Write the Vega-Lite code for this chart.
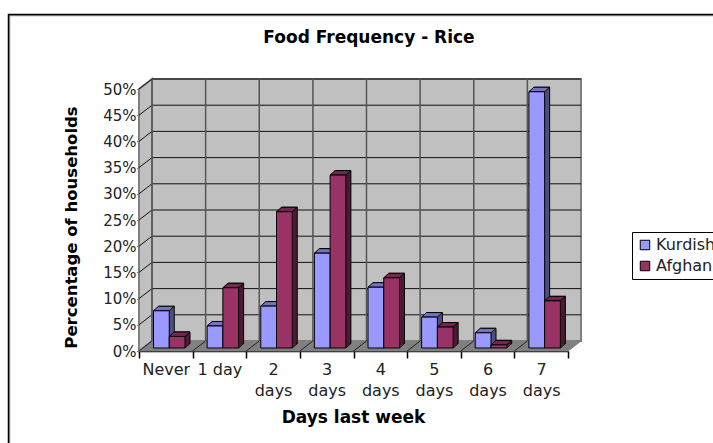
{
"$schema":"https://vega.github.io/schema/vega-lite/v6.json",
"autosize":"none","width":574,"height":272,
"padding":{"left":139,"top":79,"right":0,"bottom":92},
"background":"white",
"config":{"view":{"stroke":null},"font":"DejaVu Sans"},
"title":{"text":"Food Frequency - Rice","font":"DejaVu Sans","fontSize":17,"fontWeight":"bold","color":"black","anchor":"middle","dx":-57,"offset":-35},
"resolve":{"scale":{"xOffset":"independent"}},
"datasets":{
"bars":[
{"day":"Never","series":"Kurdish","pct":0.071},{"day":"Never","series":"Afghan","pct":0.022},
{"day":"1 day","series":"Kurdish","pct":0.042},{"day":"1 day","series":"Afghan","pct":0.115},
{"day":"2 days","series":"Kurdish","pct":0.08},{"day":"2 days","series":"Afghan","pct":0.26},
{"day":"3 days","series":"Kurdish","pct":0.181},{"day":"3 days","series":"Afghan","pct":0.33},
{"day":"4 days","series":"Kurdish","pct":0.116},{"day":"4 days","series":"Afghan","pct":0.134},
{"day":"5 days","series":"Kurdish","pct":0.059},{"day":"5 days","series":"Afghan","pct":0.04},
{"day":"6 days","series":"Kurdish","pct":0.029},{"day":"6 days","series":"Afghan","pct":0.006},
{"day":"7 days","series":"Kurdish","pct":0.489},{"day":"7 days","series":"Afghan","pct":0.09}
],
"ticks":[{"pct":0.05},{"pct":0.1},{"pct":0.15},{"pct":0.2},{"pct":0.25},{"pct":0.3},{"pct":0.35},{"pct":0.4},{"pct":0.45},{"pct":0.5}],
"days":[{"day":"Never","pct":0},{"day":"1 day","pct":0},{"day":"2 days","pct":0},{"day":"3 days","pct":0},{"day":"4 days","pct":0},{"day":"5 days","pct":0},{"day":"6 days","pct":0},{"day":"7 days","pct":0}],
"origin":[{"day":"Never","pct":0}]
},
"encoding":{
"x":{"field":"day","type":"nominal","sort":null,"bandPosition":0,"scale":{"domain":["Never","1 day","2 days","3 days","4 days","5 days","6 days","7 days"],"range":[0,429],"paddingInner":0,"paddingOuter":0},
"axis":{"title":"Days last week","titleFontSize":17,"titleFontWeight":"bold","titleColor":"black","titleX":214,"titleY":58,"labelAngle":0,"labelFontSize":16,"labelColor":"#222","labelLineHeight":21,"labelPadding":3,"labelOverlap":false,"labelExpr":"datum.label=='1 day'||datum.label=='Never'?datum.label:split(datum.label,' ')","tickColor":"black","tickSize":7,"domainColor":"black","domainWidth":1.5,"tickWidth":1.5,"tickBand":"extent","grid":false}},
"y":{"field":"pct","type":"quantitative","scale":{"domain":[0,0.5],"range":[272,10],"nice":false},
"axis":{"title":"Percentage of households","titleFontSize":16.5,"titleFontWeight":"bold","titleColor":"black","titleX":-60,"titleY":148,"format":".0%","values":[0,0.05,0.1,0.15,0.2,0.25,0.3,0.35,0.4,0.45,0.5],"labelFontSize":15,"labelColor":"#222","labelPadding":1,"tickSize":2,"tickColor":"black","domainColor":"black","domainWidth":1.5,"grid":false}}
},
"layer":[
{"data":{"name":"origin"},"mark":{"type":"point","size":4,"fillOpacity":0,"stroke":"#999","strokeWidth":1.5,"opacity":1,"shape":"M-129.5,92 V-335.5 H574"}},
{"data":{"name":"origin"},"mark":{"type":"point","size":4,"fillOpacity":0,"stroke":"black","strokeWidth":1.5,"opacity":1,"shape":"M-130.5,92 V-336.5 H574"}},
{"data":{"name":"origin"},"mark":{"type":"point","size":4,"fill":"#c0c0c0","fillOpacity":1,"stroke":"#808080","strokeWidth":2,"opacity":1,"shape":"M13,-10 L442,-10 L442,-272 L13,-272 Z"}},
{"data":{"name":"origin"},"mark":{"type":"point","size":4,"fill":"#c0c0c0","fillOpacity":1,"stroke":"#808080","strokeWidth":2,"opacity":1,"shape":"M0,0 L13,-10 L13,-272 L0,-262 Z"}},
{"data":{"name":"origin"},"mark":{"type":"point","size":4,"fill":"#808080","fillOpacity":1,"stroke":"#808080","strokeWidth":1,"opacity":1,"shape":"M0,0 L429,0 L442,-10 L13,-10 Z"}},
{"data":{"name":"ticks"},"encoding":{"x":{"datum":"Never","bandPosition":0}},"mark":{"type":"point","size":4,"fillOpacity":0,"stroke":"#111","strokeWidth":1,"opacity":1,"shape":"M0,0 L13,-10 H442"}},
{"data":{"name":"days"},"mark":{"type":"point","size":4,"fillOpacity":0,"stroke":"#555","strokeWidth":1.5,"opacity":1,"shape":"M13,-10 V-272"}},
{"data":{"name":"days"},"mark":{"type":"point","size":4,"fillOpacity":0,"stroke":"#222","strokeWidth":1,"opacity":1,"shape":"M0,0 L13,-10"}},
{"data":{"name":"bars"},"encoding":{"xOffset":{"field":"series","sort":["Kurdish","Afghan"],"scale":{"range":[19.5,51]}},"y2":{"datum":0},"color":{"condition":{"test":"datum.series=='Kurdish'","value":"#4d4d80"},"value":"#4d1a33"}},"mark":{"type":"bar","stroke":"black","strokeWidth":1,"yOffset":-7.5,"y2Offset":-7.5}},
{"data":{"name":"bars"},"encoding":{"xOffset":{"field":"series","sort":["Kurdish","Afghan"],"scale":{"range":[18.5,50]}},"y2":{"datum":0},"color":{"condition":{"test":"datum.series=='Kurdish'","value":"#4d4d80"},"value":"#4d1a33"}},"mark":{"type":"bar","yOffset":-6.6,"y2Offset":-6.6}},
{"data":{"name":"bars"},"encoding":{"xOffset":{"field":"series","sort":["Kurdish","Afghan"],"scale":{"range":[17.5,49]}},"y2":{"datum":0},"color":{"condition":{"test":"datum.series=='Kurdish'","value":"#4d4d80"},"value":"#4d1a33"}},"mark":{"type":"bar","yOffset":-5.7,"y2Offset":-5.7}},
{"data":{"name":"bars"},"encoding":{"xOffset":{"field":"series","sort":["Kurdish","Afghan"],"scale":{"range":[16.5,48]}},"y2":{"datum":0},"color":{"condition":{"test":"datum.series=='Kurdish'","value":"#4d4d80"},"value":"#4d1a33"}},"mark":{"type":"bar","yOffset":-4.8,"y2Offset":-4.8}},
{"data":{"name":"bars"},"encoding":{"xOffset":{"field":"series","sort":["Kurdish","Afghan"],"scale":{"range":[15.5,47]}},"y2":{"datum":0},"color":{"condition":{"test":"datum.series=='Kurdish'","value":"#4d4d80"},"value":"#4d1a33"}},"mark":{"type":"bar","yOffset":-3.9,"y2Offset":-3.9}},
{"data":{"name":"bars"},"encoding":{"xOffset":{"field":"series","sort":["Kurdish","Afghan"],"scale":{"range":[14.5,46]}},"y":{"datum":0},"color":{"value":"black"}},"mark":{"type":"point","size":4,"fillOpacity":0,"strokeWidth":1,"opacity":1,"shape":"M7.9,-3 L12.9,-7.5"}},
{"data":{"name":"bars"},"encoding":{"xOffset":{"field":"series","sort":["Kurdish","Afghan"],"scale":{"range":[14.5,46]}},"fill":{"condition":{"test":"datum.series=='Kurdish'","value":"#7373bf"},"value":"#732650"}},"mark":{"type":"point","size":4,"fillOpacity":1,"stroke":"black","strokeWidth":1,"opacity":1,"shape":"M-7.9,-3 L7.9,-3 L12.9,-7.5 L-2.9,-7.5 Z"}},
{"data":{"name":"bars"},"encoding":{"xOffset":{"field":"series","sort":["Kurdish","Afghan"],"scale":{"range":[14.5,46]}},"y2":{"datum":0},"color":{"field":"series","type":"nominal","sort":["Kurdish","Afghan"],"scale":{"domain":["Kurdish","Afghan"],"range":["#9999ff","#993366"]},"legend":{"title":null,"orient":"none","legendX":493,"legendY":153,"fillColor":"white","strokeColor":"black","padding":5,"symbolType":"square","symbolSize":90,"symbolStrokeColor":"black","symbolStrokeWidth":1,"labelFontSize":16,"labelColor":"#222","labelOffset":3,"rowPadding":5,"symbolOpacity":1,"labelLimit":200,"offset":0}}},"mark":{"type":"bar","stroke":"black","strokeWidth":1,"yOffset":-3,"y2Offset":-3}}
]
}
